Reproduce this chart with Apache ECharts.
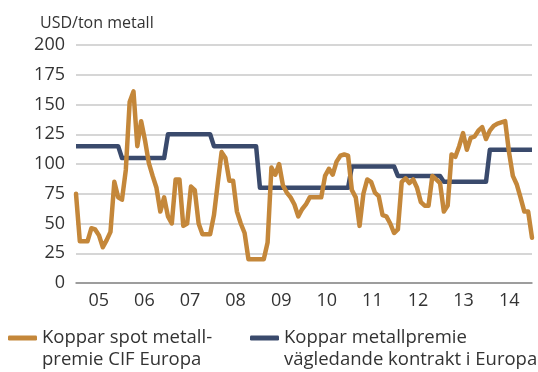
<!DOCTYPE html>
<html>
<head>
<meta charset="utf-8">
<script src="https://cdn.jsdelivr.net/npm/echarts@6/dist/echarts.min.js"></script>
<style>
  html, body { margin: 0; padding: 0; background: #fff; }
  #chart { width: 538px; height: 372px; }
</style>
</head>
<body>
<div id="chart"></div>
<script>
// Year labels on the x axis (2005–2014)
const years = ['05', '06', '07', '08', '09', '10', '11', '12', '13', '14'];

// Monthly spot premium, USD/ton (Jan 2005 – Dec 2014)
const spotPremium = [
  75, 35, 35, 35, 46, 45, 40, 30, 36, 43, 85, 72,
  70, 95, 152, 161, 115, 136, 120, 101, 90, 80, 60, 72,
  56, 50, 87, 87, 48, 50, 81, 78, 50, 41, 41, 41,
  57, 84, 110, 105, 86, 86, 60, 50, 42, 20, 20, 20,
  20, 20, 34, 97, 91, 100, 82, 76, 72, 66, 56, 62,
  66, 72, 72, 72, 72, 90, 96, 91, 102, 107, 108, 107,
  78, 72, 48, 75, 87, 85, 76, 73, 57, 56, 50, 42,
  45, 85, 88, 84, 87, 80, 68, 65, 65, 90, 87, 84,
  60, 65, 108, 106, 115, 126, 112, 122, 123, 128, 131, 121,
  128, 132, 134, 135, 136, 110, 90, 83, 72, 60, 60, 38
];

// Monthly indicative contract premium, USD/ton (set once a year)
const contractPremium = [
  115, 115, 115, 115, 115, 115, 115, 115, 115, 115, 115, 115,
  105, 105, 105, 105, 105, 105, 105, 105, 105, 105, 105, 105,
  125, 125, 125, 125, 125, 125, 125, 125, 125, 125, 125, 125,
  115, 115, 115, 115, 115, 115, 115, 115, 115, 115, 115, 115,
  80, 80, 80, 80, 80, 80, 80, 80, 80, 80, 80, 80,
  80, 80, 80, 80, 80, 80, 80, 80, 80, 80, 80, 80,
  98, 98, 98, 98, 98, 98, 98, 98, 98, 98, 98, 98,
  90, 90, 90, 90, 90, 90, 90, 90, 90, 90, 90, 90,
  85, 85, 85, 85, 85, 85, 85, 85, 85, 85, 85, 85,
  112, 112, 112, 112, 112, 112, 112, 112, 112, 112, 112, 112
];

const seriesNames = [
  'Koppar spot metall-\npremie CIF Europa',
  'Koppar metallpremie\nvägledande kontrakt i Europa'
];
const unitLabel = 'USD/ton metall';

const FONT = '"Open Sans", Roboto, sans-serif';
const TEXT = '#333333';
const ORANGE = '#c4873a';
const NAVY = '#3a4a6c';

const toPoints = arr => arr.map((v, i) => [i, v]);

const chart = echarts.init(document.getElementById('chart'), null, { renderer: 'canvas' });

// Legend labels: a blank first line keeps the swatch level with the first text line
const legendBase = {
  top: 300,
  icon: 'roundRect',
  itemWidth: 29,
  itemHeight: 5,
  formatter: name => ' \n' + name,
  textStyle: { color: TEXT, fontFamily: FONT, fontSize: 18.5, lineHeight: 22 }
};

chart.setOption({
  animation: false,
  backgroundColor: '#ffffff',
  title: {
    text: unitLabel,
    left: 35,
    top: 10,
    textStyle: { color: TEXT, fontFamily: FONT, fontSize: 16, fontWeight: 'normal' }
  },
  legend: [
    Object.assign({ data: [seriesNames[0]], left: 3 }, legendBase),
    Object.assign({ data: [seriesNames[1]], left: 245 }, legendBase)
  ],
  grid: { left: 76, right: 6, top: 45, bottom: 89, containLabel: false },
  xAxis: [
    {
      type: 'category',
      data: years,
      boundaryGap: true,
      axisLine: { show: true, lineStyle: { color: '#8a8a8a', width: 1.5 } },
      axisTick: { show: false },
      splitLine: { show: false },
      axisLabel: { color: TEXT, fontFamily: FONT, fontSize: 18, margin: 9 }
    },
    {
      type: 'value',
      min: 0,
      max: spotPremium.length - 1,
      show: false
    }
  ],
  yAxis: {
    type: 'value',
    min: 0,
    max: 200,
    interval: 25,
    axisLine: { show: false },
    axisTick: { show: false },
    splitLine: { lineStyle: { color: '#c8c8c8', width: 1.5 } },
    axisLabel: { color: TEXT, fontFamily: FONT, fontSize: 18, margin: 11 }
  },
  series: [
    {
      name: seriesNames[0],
      type: 'line',
      xAxisIndex: 1,
      data: toPoints(spotPremium),
      showSymbol: false,
      symbol: 'none',
      color: ORANGE,
      lineStyle: { color: ORANGE, width: 4.5, join: 'round', cap: 'round' },
      z: 3
    },
    {
      name: seriesNames[1],
      type: 'line',
      xAxisIndex: 1,
      data: toPoints(contractPremium),
      showSymbol: false,
      symbol: 'none',
      color: NAVY,
      lineStyle: { color: NAVY, width: 4.5, join: 'round' },
      z: 2
    }
  ]
});
</script>
</body>
</html>
